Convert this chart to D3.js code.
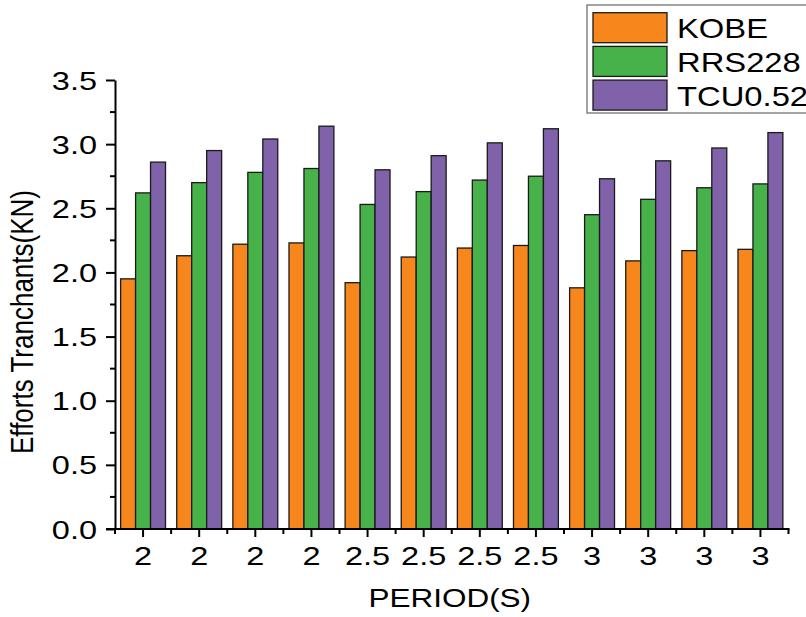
<!DOCTYPE html>
<html>
<head>
<meta charset="utf-8">
<script src="https://cdn.jsdelivr.net/npm/d3@7"></script>
<style>
  html, body { margin: 0; padding: 0; background: #fff; }
  svg { display: block; font-family: "Liberation Sans", Arial, sans-serif; }
</style>
</head>
<body>
<svg id="chart" width="806" height="617"></svg>
<script>
// Shear force per record and period
const periods = ["2", "2", "2", "2", "2.5", "2.5", "2.5", "2.5", "3", "3", "3", "3"];
const seriesNames = ["KOBE", "RRS228", "TCU0.52"];
const kobe   = [1.95, 2.13, 2.22, 2.23, 1.92, 2.12, 2.19, 2.21, 1.88, 2.09, 2.17, 2.18];
const rrs228 = [2.62, 2.70, 2.78, 2.81, 2.53, 2.63, 2.72, 2.75, 2.45, 2.57, 2.66, 2.69];
const tcu052 = [2.86, 2.95, 3.04, 3.14, 2.80, 2.91, 3.01, 3.12, 2.73, 2.87, 2.97, 3.09];
const yTicks = [0, 0.5, 1.0, 1.5, 2.0, 2.5, 3.0, 3.5];
const colors = ["#f7861c", "#47b24a", "#8062aa"];

const seriesValues = [kobe, rrs228, tcu052];
const rows = periods.map((p, i) => ({ i, p, vals: seriesValues.map(s => s[i]) }));

const svg = d3.select("#chart");
const mLeft = 115, mRight = 788.5, mTop = 80, mBottom = 529;

const x = d3.scaleBand()
  .domain(d3.range(periods.length))
  .range([mLeft, mRight])
  .paddingInner(0.2)
  .paddingOuter(0.1);

const xs = d3.scaleBand()
  .domain(d3.range(seriesNames.length))
  .range([0, x.bandwidth()]);

const y = d3.scaleLinear().domain([0, 3.5]).range([mBottom, mTop]);

// Bars
const groups = svg.append("g").selectAll("g")
  .data(rows).join("g")
  .attr("transform", d => `translate(${x(d.i)},0)`);

groups.selectAll("rect")
  .data(d => d.vals.map((v, k) => ({ v, k })))
  .join("rect")
  .attr("x", d => xs(d.k))
  .attr("y", d => y(d.v))
  .attr("width", xs.bandwidth())
  .attr("height", d => y(0) - y(d.v))
  .attr("fill", d => colors[d.k])
  .attr("stroke", "#1a1a1a")
  .attr("stroke-width", 1.3);

// Horizontal stretch of tick labels
const TX = 1.3;

// Y axis
const yAxis = svg.append("g")
  .attr("transform", `translate(${mLeft},0)`)
  .call(d3.axisLeft(y).tickValues(yTicks).tickFormat(d3.format(".1f")).tickSize(9).tickSizeOuter(0));
yAxis.select(".domain").attr("stroke-width", 2);
yAxis.selectAll(".tick line").attr("stroke-width", 2);
yAxis.selectAll(".tick text").remove();
yAxis.selectAll(".tick").append("text")
  .attr("transform", `translate(-18,9) scale(${TX},1)`)
  .attr("text-anchor", "end")
  .attr("fill", "#000")
  .attr("font-size", 25)
  .text(d => d3.format(".1f")(d));

// Y minor ticks
svg.append("g").selectAll("line")
  .data(d3.range(0.25, 3.5, 0.5))
  .join("line")
  .attr("x1", mLeft - 5).attr("x2", mLeft)
  .attr("y1", d => y(d)).attr("y2", d => y(d))
  .attr("stroke", "#000").attr("stroke-width", 2);

// X axis
const xAxis = svg.append("g")
  .attr("transform", `translate(0,${mBottom})`)
  .call(d3.axisBottom(x).tickFormat(i => periods[i]).tickSize(8).tickSizeOuter(0));
xAxis.select(".domain").attr("stroke-width", 2).attr("d", `M${mLeft - 9},0H${mRight + 1}`);
xAxis.selectAll(".tick line").attr("stroke-width", 2);
xAxis.selectAll(".tick text").remove();
xAxis.selectAll(".tick").append("text")
  .attr("transform", `translate(0,36) scale(${TX},1)`)
  .attr("text-anchor", "middle")
  .attr("fill", "#000")
  .attr("font-size", 25)
  .text(i => periods[i]);

// X minor ticks at group boundaries
svg.append("g").selectAll("line")
  .data(d3.range(periods.length + 1))
  .join("line")
  .attr("x1", k => mLeft + k * x.step()).attr("x2", k => mLeft + k * x.step())
  .attr("y1", mBottom).attr("y2", mBottom + 5)
  .attr("stroke", "#000").attr("stroke-width", 2);

// Axis titles
svg.append("text")
  .attr("transform", `translate(${(mLeft + mRight) / 2 - 2},607) scale(1.26,1)`)
  .attr("text-anchor", "middle")
  .attr("font-size", 25)
  .text("PERIOD(S)");

svg.append("text")
  .attr("transform", `translate(33,322) scale(1.22,1) rotate(-90)`)
  .attr("text-anchor", "middle")
  .attr("font-size", 26)
  .text("Efforts Tranchants(KN)");

// Legend
const legend = svg.append("g");
legend.append("rect")
  .attr("x", 587).attr("y", 5).attr("width", 240).attr("height", 108)
  .attr("fill", "#fff").attr("stroke", "#666").attr("stroke-width", 1.2);
const items = legend.selectAll("g.item")
  .data(seriesNames).join("g")
  .attr("class", "item")
  .attr("transform", (d, k) => `translate(593,${12.7 + k * 33.7})`);
items.append("rect")
  .attr("width", 74).attr("height", 30)
  .attr("fill", (d, k) => colors[k])
  .attr("stroke", "#1a1a1a").attr("stroke-width", 1.3);
items.append("text")
  .attr("transform", `translate(84,25.6) scale(1.17,1)`)
  .attr("font-size", 28)
  .text(d => d);
</script>
</body>
</html>
